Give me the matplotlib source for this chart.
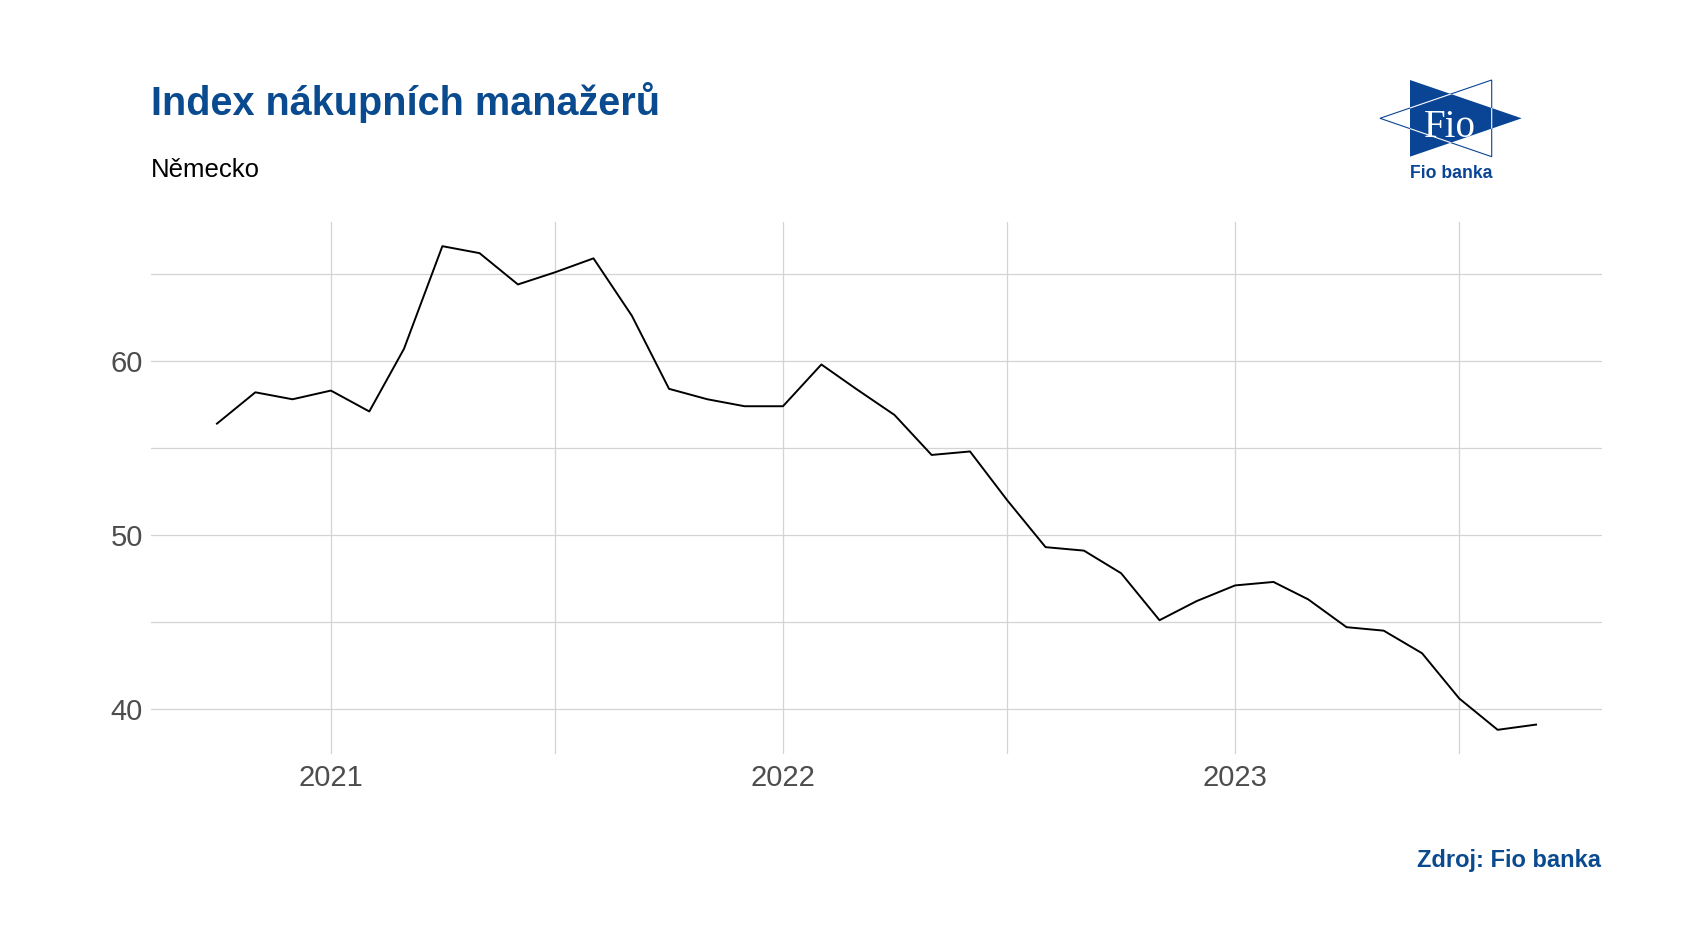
import numpy as np
import pandas as pd
import matplotlib
matplotlib.use('Agg')
import matplotlib.pyplot as plt
import matplotlib.dates as mdates
from matplotlib.patches import Polygon

# data: German manufacturing PMI, monthly
dates = pd.date_range('2020-10-01', '2023-09-01', freq='MS')
pmi = [56.4, 58.2, 57.8, 58.3, 57.1, 60.7, 66.6, 66.2, 64.4, 65.1, 65.9, 62.6,
       58.4, 57.8, 57.4, 57.4, 59.8, 58.4, 56.9, 54.6, 54.8, 52.0, 49.3, 49.1,
       47.8, 45.1, 46.2, 47.1, 47.3, 46.3, 44.7, 44.5, 43.2, 40.6, 38.8, 39.1]
year_ticks = ['2021', '2022', '2023']
y_ticks = [40, 50, 60]

title = 'Index nákupních manažerů'
subtitle = 'Německo'
source = 'Zdroj: Fio banka'

blue = '#0a4a8f'
logo_blue = '#0a4595'
grid_col = '#d4d4d4'

W, H = 1682, 952
fig = plt.figure(figsize=(W / 100, H / 100), dpi=100)
ax = fig.add_axes([151 / W, 1 - 754 / H, (1602 - 151) / W, (754 - 222) / H])

ax.plot(dates, pmi, color='black', lw=1.4)
ax.margins(x=0.05, y=0.05)

ax.set_yticks(y_ticks)
ax.set_yticks([45, 55, 65], minor=True)
ax.set_xticks([pd.Timestamp(y + '-01-01') for y in year_ticks])
ax.set_xticks([pd.Timestamp(y + '-07-01') for y in year_ticks], minor=True)
ax.xaxis.set_major_formatter(mdates.DateFormatter('%Y'))
ax.grid(True, which='both', color=grid_col, lw=0.9)
ax.set_axisbelow(True)
for s in ax.spines.values():
    s.set_visible(False)
ax.tick_params(which='both', length=0)
ax.tick_params(axis='y', pad=5.8, labelsize=21, labelcolor='#4d4d4d')
ax.tick_params(axis='x', pad=7, labelsize=21, labelcolor='#4d4d4d')
for lab in ax.get_xticklabels() + ax.get_yticklabels():
    lab.set_fontfamily('Liberation Sans')

fig.text(151 / W, 1 - 115 / H, title, fontsize=28.5, fontweight='bold',
         color=blue, family='Liberation Sans', va='baseline', ha='left')
fig.text(151 / W, 1 - 177 / H, subtitle, fontsize=18.5, color='black',
         family='Liberation Sans', va='baseline', ha='left')
fig.text(1601 / W, 1 - 867 / H, source, fontsize=17, fontweight='bold',
         color=blue, family='Liberation Sans', va='baseline', ha='right')

# logo, drawn in pixel coordinates
lx0, lx1, ly0, ly1 = 1360, 1540, 60, 190
lax = fig.add_axes([lx0 / W, 1 - ly1 / H, (lx1 - lx0) / W, (ly1 - ly0) / H])
lax.set_xlim(lx0, lx1)
lax.set_ylim(ly1, ly0)
lax.axis('off')
right_tri = Polygon([(1410, 80), (1521.7, 118.3), (1410, 156.7)], closed=True,
                    facecolor=logo_blue, edgecolor='none')
lax.add_patch(right_tri)
left_pts = [(1380, 118.3), (1491.7, 80), (1491.7, 156.7)]
lax.add_patch(Polygon(left_pts, closed=True, facecolor='none',
                      edgecolor=logo_blue, lw=0.8))
inner = Polygon(left_pts, closed=True, facecolor='none', edgecolor='white', lw=0.8)
lax.add_patch(inner)
inner.set_clip_path(right_tri)
lax.text(1450, 137, 'Fio', fontsize=28, color='white', family='Liberation Serif',
         ha='center', va='baseline')
lax.text(1451, 178.3, 'Fio banka', fontsize=12.7, fontweight='bold', color=logo_blue,
         family='Liberation Sans', ha='center', va='baseline')

fig.savefig('out.png', dpi=100, facecolor='white')
